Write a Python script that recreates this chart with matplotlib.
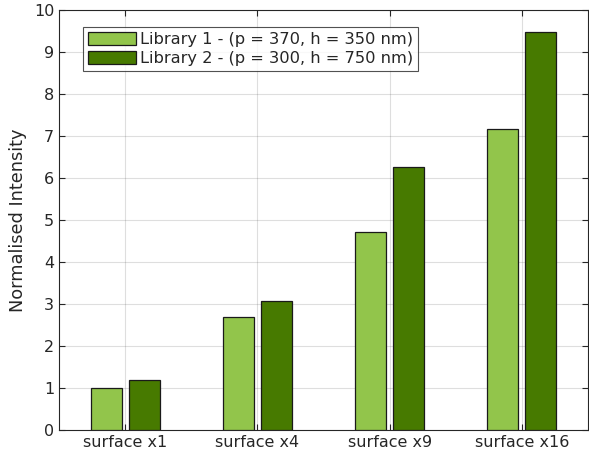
import numpy as np
import matplotlib
matplotlib.use("Agg")
import matplotlib.pyplot as plt

categories = ["surface x1", "surface x4", "surface x9", "surface x16"]
library1 = [1.0, 2.69, 4.71, 7.17]
library2 = [1.19, 3.08, 6.27, 9.48]
series_labels = ["Library 1 - (p = 370, h = 350 nm)",
                 "Library 2 - (p = 300, h = 750 nm)"]
yticks = list(range(0, 11))

light_green = "#92c54b"
dark_green = "#477a00"
axis_color = "#262626"

plt.rcParams["font.family"] = "DejaVu Sans"
fig = plt.figure(figsize=(5.89, 4.58), dpi=100)
ax = fig.add_axes([59 / 589, 28 / 458, 529 / 589, 420 / 458])

x = np.arange(1, len(categories) + 1)
width = 0.235
offset = 0.144
ax.bar(x - offset, library1, width, color=light_green, edgecolor="#1a1a1a",
       linewidth=0.9, label=series_labels[0], zorder=3)
ax.bar(x + offset, library2, width, color=dark_green, edgecolor="#1a1a1a",
       linewidth=0.9, label=series_labels[1], zorder=3)

ax.set_xlim(0.5, 4.5)
ax.set_ylim(0, 10)
ax.set_xticks(x)
ax.set_xticklabels(categories)
ax.set_yticks(yticks)
ax.set_ylabel("Normalised Intensity", fontsize=12.8, color=axis_color, labelpad=5)

ax.grid(True, color="#262626", alpha=0.15, linewidth=0.8, zorder=0)
ax.set_axisbelow(True)
ax.tick_params(direction="in", top=True, right=True, length=4,
               labelsize=11.5, colors=axis_color, width=0.8)
for s in ax.spines.values():
    s.set_color(axis_color)
    s.set_linewidth(0.8)

leg = ax.legend(loc="upper left", bbox_to_anchor=(0.045, 0.9595), fontsize=11.7,
                frameon=True, fancybox=False, borderpad=0.3,
                labelspacing=0.24, handlelength=3.0, handleheight=0.88,
                handletextpad=0.22, borderaxespad=0)
leg.get_frame().set_edgecolor("#262626")
leg.get_frame().set_linewidth(0.8)
for t in leg.get_texts():
    t.set_color(axis_color)

fig.savefig("out.png", dpi=100)
